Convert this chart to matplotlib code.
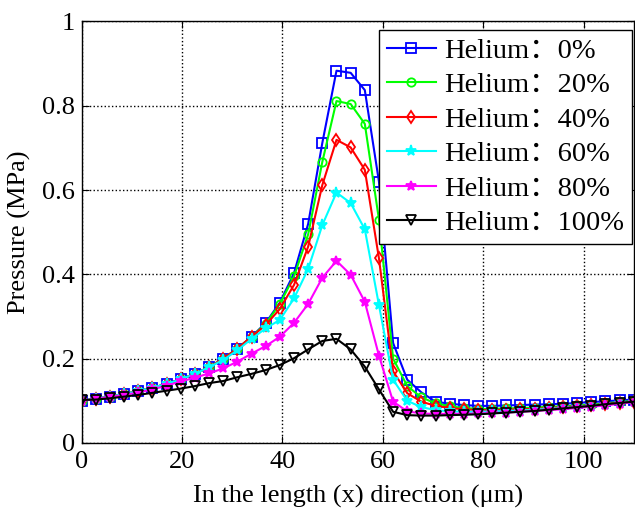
import numpy as np
import matplotlib
matplotlib.use("Agg")
import matplotlib.pyplot as plt

plt.rcParams['font.family'] = ['Liberation Serif', 'Noto Sans CJK SC']
plt.rcParams['mathtext.fontset'] = 'stix'

# 40 sample points along the length
x = np.linspace(0, 110, 40)

base = [0.100, 0.105, 0.110, 0.116, 0.123, 0.131, 0.140, 0.151, 0.164,
        0.180, 0.200, 0.224, 0.252]

he_0 = base + [0.285, 0.333, 0.403, 0.520, 0.712, 0.883, 0.878, 0.837, 0.620,
               0.237, 0.150, 0.120, 0.098, 0.093, 0.090, 0.088, 0.088, 0.089,
               0.090, 0.091, 0.092, 0.093, 0.095, 0.097, 0.099, 0.101, 0.103]
he_20 = base + [0.283, 0.330, 0.395, 0.495, 0.667, 0.811, 0.804, 0.757, 0.530,
                0.200, 0.135, 0.108, 0.094, 0.087, 0.083, 0.081, 0.081, 0.082,
                0.083, 0.084, 0.086, 0.087, 0.089, 0.091, 0.094, 0.097, 0.100]
he_40 = base + [0.280, 0.318, 0.375, 0.466, 0.612, 0.719, 0.701, 0.648, 0.438,
                0.170, 0.118, 0.098, 0.088, 0.083, 0.080, 0.078, 0.078, 0.079,
                0.080, 0.081, 0.083, 0.085, 0.087, 0.089, 0.092, 0.095, 0.098]
he_60 = base[:10] + [0.197, 0.220, 0.247,
                     0.272, 0.292, 0.343, 0.413, 0.517, 0.594, 0.569, 0.507, 0.327,
                     0.150, 0.100, 0.085, 0.078, 0.075, 0.074, 0.074, 0.075, 0.076,
                     0.077, 0.079, 0.081, 0.083, 0.085, 0.088, 0.091, 0.094, 0.097]
he_80 = [0.100, 0.104, 0.109, 0.114, 0.120, 0.127, 0.136, 0.146, 0.155, 0.165,
         0.177, 0.193, 0.212, 0.230, 0.252, 0.285, 0.330, 0.392, 0.432, 0.399,
         0.335, 0.207, 0.098, 0.075, 0.070, 0.069, 0.069, 0.069, 0.070, 0.071,
         0.072, 0.074, 0.076, 0.078, 0.080, 0.083, 0.086, 0.089, 0.093, 0.097]
he_100 = [0.102, 0.103, 0.106, 0.110, 0.114, 0.119, 0.124, 0.129, 0.135, 0.142,
          0.147, 0.156, 0.164, 0.173, 0.185, 0.201, 0.222, 0.242, 0.247, 0.222,
          0.181, 0.127, 0.074, 0.066, 0.065, 0.065, 0.066, 0.067, 0.068, 0.070,
          0.072, 0.074, 0.076, 0.079, 0.082, 0.085, 0.088, 0.092, 0.095, 0.098]

series = [he_0, he_20, he_40, he_60, he_80, he_100]
labels = ['Helium：0%', 'Helium：20%', 'Helium：40%',
          'Helium：60%', 'Helium：80%', 'Helium：100%']
colors = ['#0000ff', '#00ff00', '#ff0000', '#00ffff', '#ff00ff', '#000000']
markers = ['s', 'o', 'd', '*', '*', 'v']
sizes = [7, 6, 6, 8, 7, 7]
fills = ['none', 'none', 'none', 'full', 'full', 'none']

fig = plt.figure(figsize=(6.35, 5.09), dpi=100)
ax = fig.add_axes([0.1287, 0.1297, 0.8693, 0.8283])

for y, lab, c, m, s, f in zip(series, labels, colors, markers, sizes, fills):
    kw = dict(markerfacecolor='none') if f == 'none' else dict(markerfacecolor=c)
    ax.plot(x, y, color=c, marker=m, markersize=s, linewidth=1.5,
            markeredgewidth=1.3, label=lab, **kw)

ax.set_xlim(0, 110)
ax.set_ylim(0, 1)
ax.set_xticks([0, 20, 40, 60, 80, 100])
ax.set_yticks([0, 0.2, 0.4, 0.6, 0.8, 1])
ax.set_yticklabels(['0', '0.2', '0.4', '0.6', '0.8', '1'])
ax.grid(True, linestyle=':', color='black', linewidth=1)
ax.tick_params(direction='in', top=True, right=True, length=5,
               labelsize=19)
ax.tick_params(axis='x', pad=6)
ax.tick_params(axis='y', pad=5)
for sp in ax.spines.values():
    sp.set_linewidth(1)

ax.set_xlabel('In the length (x) direction (μm)', fontsize=19, labelpad=8)
ax.set_ylabel('Pressure (MPa)', fontsize=19, labelpad=8)

leg = ax.legend(loc='upper right', bbox_to_anchor=(0.997, 0.98),
                borderaxespad=0, fontsize=20.5, fancybox=False,
                edgecolor='black', framealpha=1, handlelength=1.7,
                labelspacing=0.3, handletextpad=0.3, borderpad=0.28)
leg.get_frame().set_linewidth(1)

fig.savefig('out.png', dpi=100)
